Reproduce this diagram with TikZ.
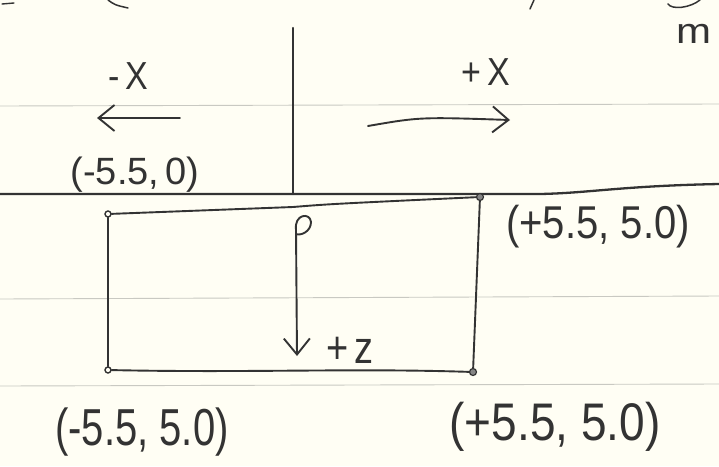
\documentclass[tikz,border=0pt]{standalone}
\usepackage{fontspec}
\setmainfont{Liberation Sans}
\usetikzlibrary{arrows.meta}
\definecolor{paper}{HTML}{FFFEF4}
\definecolor{ink}{HTML}{333333}
\definecolor{rule}{HTML}{C9C9C2}
\newcommand{\tall}[2]{\scalebox{1}[#1]{#2}}
\tikzset{
  inkline/.style={draw=ink, line width=1.9pt, line cap=round, line join=round},
  heavyline/.style={draw=ink, line width=2.3pt, line cap=round},
  ruleline/.style={draw=rule, line width=0.9pt},
  lbl/.style={text=ink, inner sep=0pt, font=\fontsize{34}{38}\selectfont},
  biglbl/.style={text=ink, inner sep=0pt, font=\fontsize{40}{44}\selectfont},
  cornerdot/.style={circle, draw=ink, fill=ink!60, line width=1.2pt, minimum size=7pt, inner sep=0pt},
  opendot/.style={circle, draw=ink, fill=paper, line width=1.4pt, minimum size=6pt, inner sep=0pt},
  barb/.style={-{Straight Barb[length=16pt,width=26pt,line width=1.9pt]}},
}
\begin{document}
\begin{tikzpicture}[x=1pt,y=-1pt]
\fill[paper] (0,0) rectangle (719,466);
\useasboundingbox (0,0) rectangle (719,466);
\clip (0,0) rectangle (719,466);
% ruled lines of the paper
\draw[ruleline] (0,106) -- (719,104);
\draw[ruleline] (0,299) -- (719,296);
\draw[ruleline] (0,386) -- (719,384);
% cut-off handwriting at the top edge
\draw[inkline, line width=1.4pt] (2,4) -- (14,3);
\draw[inkline, line width=1.5pt] (108,0) .. controls (115,5) .. (128,8);
\draw[inkline, line width=1.5pt] (534,0) -- (530,9);
\draw[inkline, line width=1.5pt] (700,0) .. controls (690,8) and (672,10) .. (668,4);
\node[text=ink, inner sep=0pt, font=\fontsize{42}{46}\selectfont, anchor=west] (mfrag) at (676,34) {\tall{0.85}{m}};
% coordinates of the figure
\coordinate (axtop) at (293,28);
\coordinate (axbot) at (293,194);
\coordinate (hl) at (0,194);
\coordinate (hm) at (540,194);
\coordinate (hr) at (719,184);
% vertical axis and heavy horizontal line
\draw[heavyline] (axtop) -- (axbot);
\draw[heavyline] (hl) -- (axbot) -- (hm) .. controls (590,193) and (620,186) .. (hr);
% corners of the rectangle
\node[opendot] (tl) at (108,214) {};
\node[cornerdot] (tr) at (480,197) {};
\node[opendot] (bl) at (108,370) {};
\node[cornerdot] (br) at (473,372) {};
\coordinate (pmid) at (293,207);
% rectangle
\draw[inkline] (tl) -- (pmid) .. controls (330,204) .. (tr);
\draw[inkline] (tr) -- (br);
\draw[inkline] (bl) .. controls (250,373) and (350,368) .. (br);
\draw[inkline] (tl) -- (bl);
% +z arrow with its loop
\coordinate (ztop) at (296,230);
\coordinate (ztip) at (297,356);
\draw[inkline] (ztop) .. controls (294,214) and (310,212) .. (311,222) .. controls (311,232) and (300,236) .. (296,234);
\draw[inkline, barb] (ztop) -- (ztip);
% -X and +X arrows
\coordinate (mxs) at (180,118);
\coordinate (mxe) at (97,118);
\draw[inkline, barb] (mxs) -- (mxe);
\coordinate (pxs) at (368,126);
\coordinate (pxe) at (510,120);
\draw[inkline, barb] (pxs) .. controls (420,117) .. (pxe);
% labels
\node[lbl] (mx) at (128,76) {\tall{1.15}{-\,X}};
\node[lbl] (px) at (486,72) {\tall{1.15}{+\,X}};
\node[lbl, font=\fontsize{38}{42}\selectfont] (pz) at (350,350) {\tall{1.2}{+\,z}};
\node[lbl, font=\fontsize{38}{42}\selectfont] (ltl) at (135,175) {\tall{1.0}{(-5.5,\,0)}};
\node[lbl, font=\fontsize{40}{44}\selectfont] (ltr) at (598,227) {\tall{1.15}{(+5.5, 5.0)}};
\node[biglbl] (lbl) at (142,432) {\tall{1.3}{(-5.5, 5.0)}};
\node[biglbl, font=\fontsize{46}{50}\selectfont] (lbr) at (555,427) {\tall{1.15}{(+5.5, 5.0)}};
\end{tikzpicture}
\end{document}
